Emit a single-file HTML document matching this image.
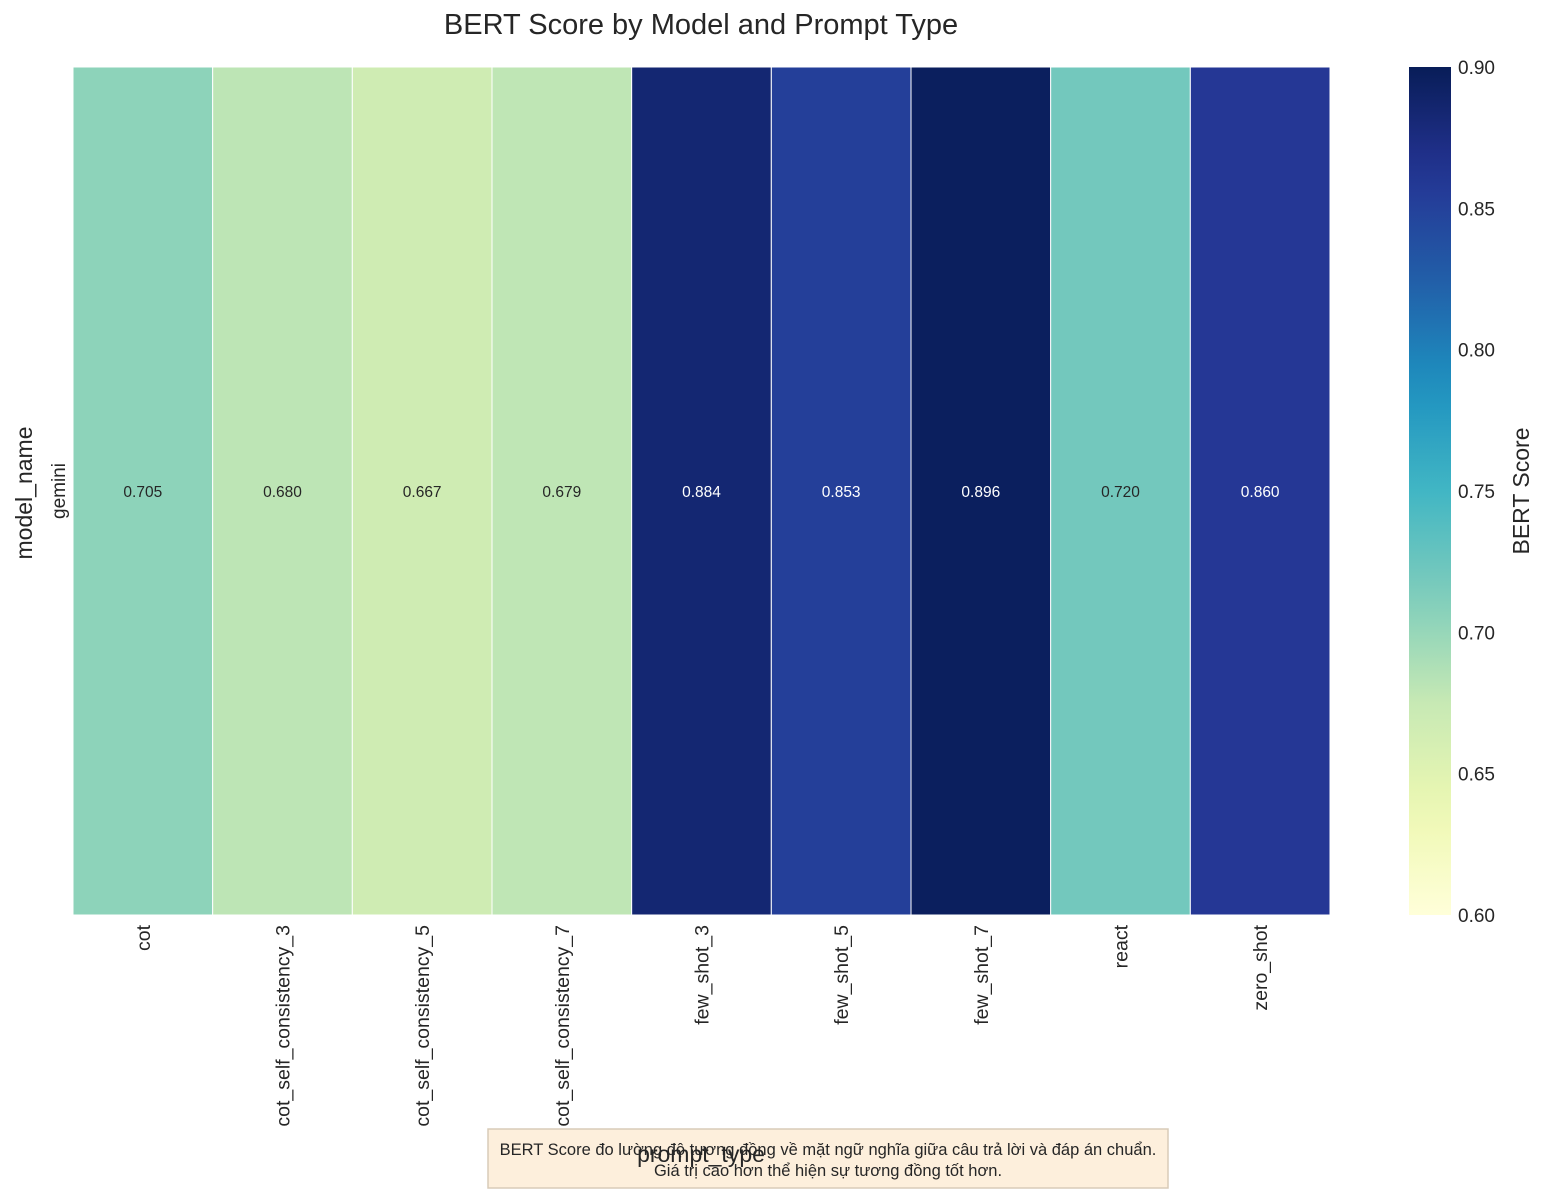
<!DOCTYPE html>
<html><head><meta charset="utf-8"><style>
body{margin:0;background:#fff;}
svg{display:block;font-family:"Liberation Sans",Arial,sans-serif;}
</style></head><body>
<svg id="c" width="1544" height="1192">
<defs><linearGradient id="cbg" x1="0" y1="1" x2="0" y2="0"></linearGradient></defs>
<text x="701" y="34" text-anchor="middle" font-size="29" fill="#262626">BERT Score by Model and Prompt Type</text>
<g id="cells"></g>
<g id="xt"></g>
<text x="32" y="493" transform="rotate(-90 32 493)" text-anchor="middle" font-size="23" fill="#262626">model_name</text>
<text x="65" y="491" transform="rotate(-90 65 491)" text-anchor="middle" font-size="19" fill="#262626">gemini</text>
<rect x="1409" y="67" width="42" height="848" fill="url(#cbg)"/>
<g id="cbt"></g>
<text x="1529" y="491" transform="rotate(-90 1529 491)" text-anchor="middle" font-size="23" fill="#262626">BERT Score</text>
<rect x="488" y="1129" width="680" height="59" fill="#fdebd3" fill-opacity="0.8" stroke="#d8cbb8" stroke-width="1.5"/>
<text x="701" y="1162" text-anchor="middle" font-size="23" fill="#262626">prompt_type</text>
<text x="828" y="1155" text-anchor="middle" font-size="16.5" fill="#262626">BERT Score đo lường độ tương đồng về mặt ngữ nghĩa giữa câu trả lời và đáp án chuẩn.</text>
<text x="828" y="1176" text-anchor="middle" font-size="16.5" fill="#262626">Giá trị cao hơn thể hiện sự tương đồng tốt hơn.</text>
</svg>
<script>
const categories=["cot","cot_self_consistency_3","cot_self_consistency_5","cot_self_consistency_7","few_shot_3","few_shot_5","few_shot_7","react","zero_shot"];
const values=[0.705,0.680,0.667,0.679,0.884,0.853,0.896,0.720,0.860];
const cbTicks=[0.60,0.65,0.70,0.75,0.80,0.85,0.90];
const vmin=0.6,vmax=0.9;
const stops=["#ffffd9","#edf8b1","#c7e9b4","#7fcdbb","#41b6c4","#1d91c0","#225ea8","#253494","#081d58"];
function hx(h){return [1,3,5].map(i=>parseInt(h.substr(i,2),16));}
function cmap(v){let t=Math.max(0,Math.min(1,(v-vmin)/(vmax-vmin)))*(stops.length-1);let i=Math.min(Math.floor(t),stops.length-2),f=t-i;const a=hx(stops[i]),b=hx(stops[i+1]);return "rgb("+a.map((x,k)=>Math.round(x+(b[k]-x)*f)).join(",")+")";}
const X0=73,X1=1330,Y0=67,Y1=915;
const cw=(X1-X0)/categories.length;
const xs=i=>X0+i*cw;
const ys=v=>Y1-(v-vmin)/(vmax-vmin)*(Y1-Y0);
const NS="http://www.w3.org/2000/svg";
const cells=document.getElementById("cells"),xt=document.getElementById("xt");
categories.forEach((c,i)=>{
 const r=document.createElementNS(NS,"rect");
 r.setAttribute("x",xs(i));r.setAttribute("y",Y0);r.setAttribute("width",cw);r.setAttribute("height",Y1-Y0);
 r.setAttribute("fill",cmap(values[i]));r.setAttribute("stroke","#fff");r.setAttribute("stroke-width","1");
 
 
 cells.appendChild(r);
 const t=document.createElementNS(NS,"text");
 t.setAttribute("x",xs(i)+cw/2);t.setAttribute("y",497);t.setAttribute("text-anchor","middle");t.setAttribute("font-size","15.5");
 t.setAttribute("fill",values[i]>0.78?"#fff":"#262626");t.textContent=values[i].toFixed(3);
 
 
 cells.appendChild(t);
 const l=document.createElementNS(NS,"text");
 const lx=xs(i)+cw/2+7,ly=925;
 l.setAttribute("x",lx);l.setAttribute("y",ly);l.setAttribute("text-anchor","end");l.setAttribute("font-size","19.5");l.setAttribute("fill","#262626");
 l.setAttribute("transform","rotate(-90 "+lx+" "+ly+")");l.textContent=c;
 
 
 xt.appendChild(l);
});
const g=document.getElementById("cbg");
for(let k=0;k<=20;k++){const s=document.createElementNS(NS,"stop");s.setAttribute("offset",k/20);s.setAttribute("stop-color",cmap(vmin+(vmax-vmin)*k/20));g.appendChild(s);}
const cbt=document.getElementById("cbt");
cbTicks.forEach(v=>{const t=document.createElementNS(NS,"text");t.setAttribute("x",1458);t.setAttribute("y",ys(v)+7);t.setAttribute("font-size","19");t.setAttribute("fill","#262626");t.textContent=v.toFixed(2);
 
 
 cbt.appendChild(t);});
</script>
</body></html>
